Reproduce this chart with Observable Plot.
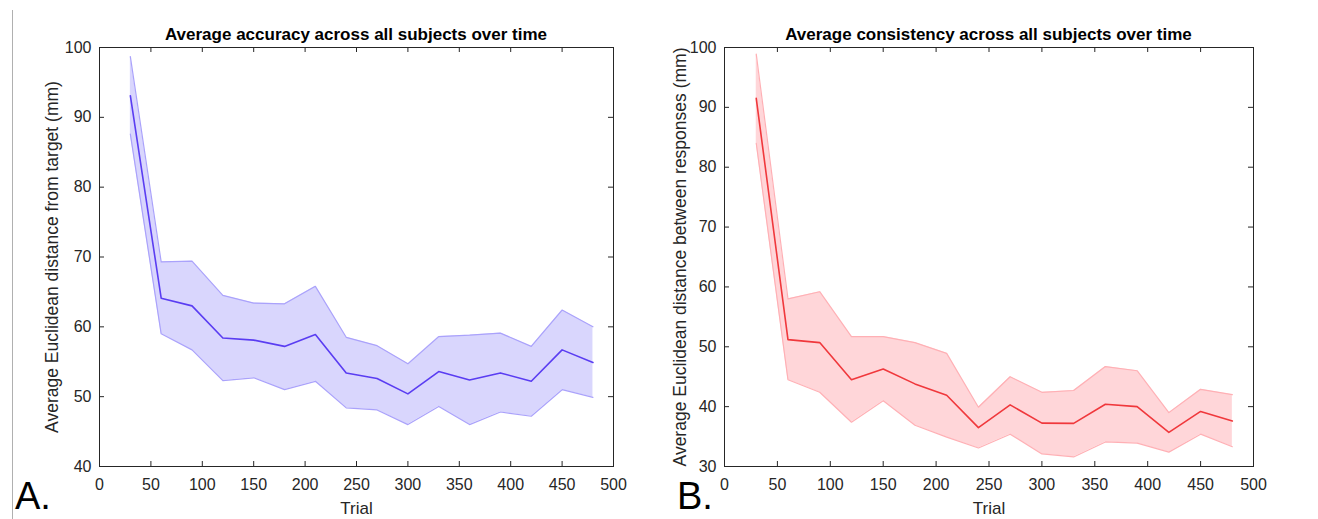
<!DOCTYPE html>
<html><head><meta charset="utf-8">
<script src="https://cdn.jsdelivr.net/npm/d3@7"></script>
<script src="https://cdn.jsdelivr.net/npm/@observablehq/plot@0.6"></script>
<style>
body{margin:0;background:#fff;}
#wrap{position:relative;width:1318px;height:519px;overflow:hidden;font-family:"Liberation Sans",Arial,sans-serif;background:#fff;}
.chart{position:absolute;top:0;}
.title{position:absolute;font-weight:bold;font-size:17px;line-height:17px;color:#000;white-space:nowrap;transform:translateX(-50%);}
.panel{position:absolute;font-family:"Liberation Sans",Arial,sans-serif;font-size:38px;line-height:normal;color:#000;}
.vline{position:absolute;left:12px;top:10px;width:1px;height:509px;background:#b0b0b0;}
</style></head>
<body><div id="wrap"><div class="vline"></div></div>
<script>
// ---- data ----
const trials = [30, 60, 90, 120, 150, 180, 210, 240, 270, 300, 330, 360, 390, 420, 450, 480];

const accuracyMean  = [93.1, 64.1, 63.0, 58.4, 58.1, 57.2, 58.9, 53.4, 52.6, 50.4, 53.6, 52.4, 53.4, 52.2, 56.7, 54.9];
const accuracyUpper = [98.7, 69.3, 69.4, 64.5, 63.4, 63.3, 65.8, 58.5, 57.3, 54.7, 58.6, 58.8, 59.1, 57.2, 62.4, 60.0];
const accuracyLower = [87.6, 59.0, 56.7, 52.3, 52.7, 51.0, 52.2, 48.4, 48.1, 46.0, 48.6, 46.0, 47.8, 47.2, 51.0, 49.9];

const consistencyMean  = [91.5, 51.2, 50.7, 44.5, 46.3, 43.8, 41.9, 36.5, 40.3, 37.25, 37.2, 40.4, 40.0, 35.7, 39.2, 37.6];
const consistencyUpper = [98.9, 58.0, 59.2, 51.7, 51.7, 50.7, 48.9, 39.9, 45.0, 42.4, 42.7, 46.7, 46.0, 39.0, 42.9, 42.0];
const consistencyLower = [84.0, 44.5, 42.4, 37.4, 41.0, 36.9, 34.9, 33.1, 35.4, 32.1, 31.6, 34.1, 33.9, 32.4, 35.4, 33.3];

const xTicks = [0, 50, 100, 150, 200, 250, 300, 350, 400, 450, 500];
const accuracyYTicks = [40, 50, 60, 70, 80, 90, 100];
const consistencyYTicks = [30, 40, 50, 60, 70, 80, 90, 100];

const titles = ["Average accuracy across all subjects over time", "Average consistency across all subjects over time"];
const yLabels = ["Average Euclidean distance from target (mm)", "Average Euclidean distance between responses (mm)"];
const xLabel = "Trial";
const panelLetters = ["A.", "B."];

// ---- build ----
const wrap = document.getElementById("wrap");

function makeChart(cfg) {
  const rows = trials.map((t, i) => ({trial: t, mean: cfg.mean[i], hi: cfg.upper[i], lo: cfg.lower[i]}));
  const H = 519;
  const innerW = cfg.width - cfg.ml - cfg.mr;
  const innerH = H - cfg.mt - cfg.mb;
  const tl = 5;
  const axisColor = "#262626";
  const chart = Plot.plot({
    width: cfg.width,
    height: H,
    marginLeft: cfg.ml,
    marginRight: cfg.mr,
    marginTop: cfg.mt,
    marginBottom: cfg.mb,
    style: {fontFamily: "Liberation Sans, Arial, sans-serif", fontSize: "16px", color: "#262626", background: "transparent"},
    x: {domain: [0, 500]},
    y: {domain: cfg.yDomain},
    marks: [
      Plot.areaY(rows, {x: "trial", y1: "lo", y2: "hi", fill: cfg.fill}),
      Plot.line(rows, {x: "trial", y: "hi", stroke: cfg.edge, strokeWidth: 1.2}),
      Plot.line(rows, {x: "trial", y: "lo", stroke: cfg.edge, strokeWidth: 1.2}),
      Plot.line(rows, {x: "trial", y: "mean", stroke: cfg.line, strokeWidth: 1.6}),
      // inward ticks on all four sides (MATLAB box style)
      Plot.tickX(xTicks, {x: d => d, stroke: axisColor, insetTop: innerH - tl}),
      Plot.tickX(xTicks, {x: d => d, stroke: axisColor, insetBottom: innerH - tl}),
      Plot.tickY(cfg.yTicks, {y: d => d, stroke: axisColor, insetRight: innerW - tl}),
      Plot.tickY(cfg.yTicks, {y: d => d, stroke: axisColor, insetLeft: innerW - tl}),
      Plot.frame({stroke: axisColor, strokeWidth: 1}),
      Plot.axisX({ticks: xTicks, tickSize: 0, tickPadding: 12, fontSize: 16, label: null}),
      Plot.axisY({ticks: cfg.yTicks, tickSize: 0, tickPadding: 8, fontSize: 16, label: null}),
      Plot.text([xLabel], {text: d => d, frameAnchor: "bottom", dy: 42, lineAnchor: "middle", fontSize: 17, fill: "#262626"}),
      Plot.text([cfg.yLabel], {text: d => d, frameAnchor: "left", rotate: -90, dx: -cfg.yLabelDx,
                               textAnchor: "middle", lineAnchor: "middle", fontSize: 17.5, fill: "#262626"})
    ]
  });
  chart.classList.add("chart");
  chart.style.left = cfg.left + "px";
  wrap.appendChild(chart);

  const t = document.createElement("div");
  t.className = "title";
  t.textContent = cfg.title;
  t.style.left = (cfg.left + cfg.ml + innerW / 2) + "px";
  t.style.top = "26px";
  wrap.appendChild(t);

  const p = document.createElement("div");
  p.className = "panel";
  p.textContent = cfg.letter;
  p.style.left = cfg.letterX + "px";
  p.style.top = "475px";
  wrap.appendChild(p);
}

makeChart({
  left: 0, width: 660, ml: 99, mr: 47, mt: 47, mb: 53,
  mean: accuracyMean, upper: accuracyUpper, lower: accuracyLower,
  yDomain: [40, 100], yTicks: accuracyYTicks,
  fill: "#d9d6fd", edge: "#aaa2fb", line: "#5a3df2",
  title: titles[0], yLabel: yLabels[0], letter: panelLetters[0], letterX: 15,
  yLabelDx: 47
});
makeChart({
  left: 640, width: 678, ml: 84, mr: 65, mt: 47, mb: 53,
  mean: consistencyMean, upper: consistencyUpper, lower: consistencyLower,
  yDomain: [30, 100], yTicks: consistencyYTicks,
  fill: "#ffd6d9", edge: "#ffb0b5", line: "#f0383c",
  title: titles[1], yLabel: yLabels[1], letter: panelLetters[1], letterX: 677,
  yLabelDx: 44
});
</script>
</body></html>
